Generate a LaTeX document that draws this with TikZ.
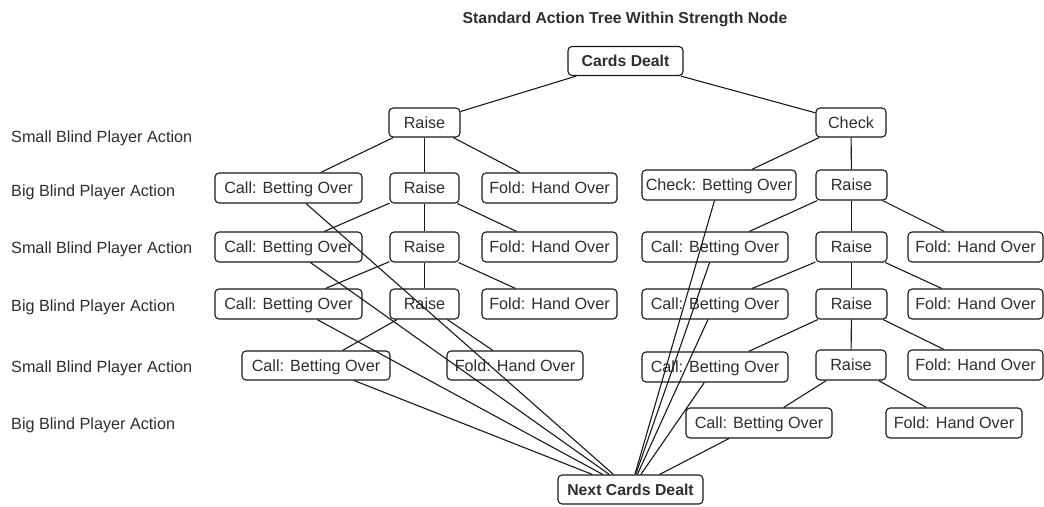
\documentclass[tikz,border=0pt]{standalone}
\usepackage{fontspec}
\setmainfont{Liberation Sans}
\begin{document}
\begin{tikzpicture}[x=1pt,y=-1pt,
  txt/.style={font=\fontsize{16.2}{19}\selectfont, text=black!82},
  boldfont/.style={font=\fontsize{15.8}{19}\selectfont\bfseries},
  box/.style={txt, draw=black!90, line width=1.1pt, rounded corners=4pt,
    inner sep=0pt, minimum height=29pt, text height=11.5pt, text depth=0pt},
  boldbox/.style={box, boldfont},
  rowlabel/.style={txt, anchor=west, inner sep=0pt, text height=11.5pt, text depth=0pt},
  link/.style={line width=1.1pt, draw=black!90}]
\useasboundingbox (0,0) rectangle (1044,506);

% title and level labels
\node[txt, boldfont, inner sep=0pt, text height=11.5pt, text depth=0pt] (title) at (625,18) {Standard Action Tree Within Strength Node};
\node[rowlabel] (lab1) at (11,136.5) {Small Blind Player Action};
\node[rowlabel] (lab2) at (11,190.5) {Big Blind Player Action};
\node[rowlabel] (lab3) at (11,247.5) {Small Blind Player Action};
\node[rowlabel] (lab4) at (11,306) {Big Blind Player Action};
\node[rowlabel] (lab5) at (11,366.5) {Small Blind Player Action};
\node[rowlabel] (lab6) at (11,424) {Big Blind Player Action};

% root and sink
\node[boldbox, minimum width=115pt] (deal) at (625.5,61) {Cards Dealt};
\node[boldbox, minimum width=145pt, minimum height=29pt] (next) at (630.5,489.5) {Next Cards Dealt};

% small blind opening
\node[box, minimum width=71pt] (r1) at (424.5,122.5) {Raise};
\node[box, minimum width=70pt] (chk) at (851,122.5) {Check};

% left branch
\node[box, minimum width=147pt, minimum height=30pt] (cl2) at (288.5,188) {Call: Betting Over};
\node[box, minimum width=69pt, minimum height=30pt] (rl2) at (424.5,188) {Raise};
\node[box, minimum width=135pt, minimum height=30pt] (fl2) at (549.5,188) {Fold: Hand Over};

\node[box, minimum width=147pt, minimum height=30pt] (cl3) at (288.5,247) {Call: Betting Over};
\node[box, minimum width=69pt, minimum height=30pt] (rl3) at (424.5,247) {Raise};
\node[box, minimum width=135pt, minimum height=30pt] (fl3) at (549.5,247) {Fold: Hand Over};

\node[box, minimum width=147pt, minimum height=30pt] (cl4) at (288.5,304) {Call: Betting Over};
\node[box, minimum width=69pt, minimum height=30pt] (rl4) at (424.5,304) {Raise};
\node[box, minimum width=135pt, minimum height=30pt] (fl4) at (549.5,304) {Fold: Hand Over};

\node[box, minimum width=148pt] (cl5) at (316,365.5) {Call: Betting Over};
\node[box, minimum width=136pt] (fl5) at (515,365.5) {Fold: Hand Over};

% right branch
\node[box, minimum width=154pt, minimum height=30pt] (cbo) at (719,185) {Check: Betting Over};
\node[box, minimum width=71pt, minimum height=30pt] (rr2) at (851.5,185) {Raise};

\node[box, minimum width=146pt, minimum height=30pt] (cr3) at (715,247) {Call: Betting Over};
\node[box, minimum width=71pt, minimum height=30pt] (rr3) at (851.5,247) {Raise};
\node[box, minimum width=135pt, minimum height=30pt] (fr3) at (975.5,247) {Fold: Hand Over};

\node[box, minimum width=146pt, minimum height=30pt] (cr4) at (715,304) {Call: Betting Over};
\node[box, minimum width=71pt, minimum height=30pt] (rr4) at (851.5,304) {Raise};
\node[box, minimum width=135pt, minimum height=30pt] (fr4) at (975.5,304) {Fold: Hand Over};

\node[box, minimum width=146pt, minimum height=30pt] (cr5) at (715,367) {Call: Betting Over};
\node[box, minimum width=70pt, minimum height=30pt] (rr5) at (851,365) {Raise};
\node[box, minimum width=135pt, minimum height=30pt] (fr5) at (975.5,365) {Fold: Hand Over};

\node[box, minimum width=146pt, minimum height=30pt] (cr6) at (759,423) {Call: Betting Over};
\node[box, minimum width=136pt, minimum height=30pt] (fr6) at (954,423) {Fold: Hand Over};

% tree edges
\draw[link] (deal) -- (r1);
\draw[link] (deal) -- (chk);
\foreach \a/\b in {r1/cl2, r1/rl2, r1/fl2,
                   rl2/cl3, rl2/rl3, rl2/fl3,
                   rl3/cl4, rl3/rl4, rl3/fl4,
                   rl4/cl5, rl4/fl5,
                   chk/cbo, chk/rr2,
                   rr2/cr3, rr2/rr3, rr2/fr3,
                   rr3/cr4, rr3/rr4, rr3/fr4,
                   rr4/cr5, rr4/rr5, rr4/fr5,
                   rr5/cr6, rr5/fr6}
  \draw[link] (\a) -- (\b);

% betting over: on to the next cards
\foreach \a in {cl2, cl3, cl4, cl5, cbo, cr3, cr4, cr5, cr6}
  \draw[link] (\a) -- (next);
\end{tikzpicture}
\end{document}
